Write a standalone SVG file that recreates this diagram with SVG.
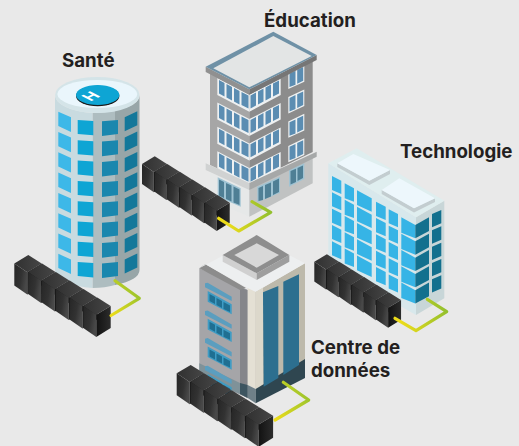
<svg xmlns="http://www.w3.org/2000/svg" xmlns:xlink="http://www.w3.org/1999/xlink" width="519" height="446" viewBox="0 0 519 446">
<style>
.lbl{font-family:Inter,"Liberation Sans",sans-serif;font-weight:700;font-size:18.7px;fill:#231f20}
.wire{fill:none;stroke-width:3.2;stroke-linecap:round;stroke-linejoin:round}
.s1{fill:#3db8e8}.s2{fill:#0ea5d4}.s3{fill:#1a87ae}.s4{fill:#14789a}
.ew{fill:#5b8db2}.ef{fill:#eef1f2}
.tw{fill:#36b4e6}.td{fill:#13708e}
</style>
<defs>
<linearGradient id="face" x1="0" x2="1" y1="0" y2=".4"><stop offset="0" stop-color="#262626"/><stop offset=".6" stop-color="#323232"/><stop offset="1" stop-color="#484848"/></linearGradient>
<linearGradient id="topf" x1="0" x2="1" y1="0" y2="0"><stop offset="0" stop-color="#303030"/><stop offset="1" stop-color="#464646"/></linearGradient>
<linearGradient id="rf" x1="0" x2="1" y1="0" y2="0"><stop offset="0" stop-color="#121212"/><stop offset="1" stop-color="#2c2c2c"/></linearGradient>
<linearGradient id="wg1" gradientUnits="userSpaceOnUse" x1="112" y1="316" x2="139" y2="298"><stop offset="0" stop-color="#ecdc1a"/><stop offset="1" stop-color="#9fc52c"/></linearGradient>
<linearGradient id="wg2" gradientUnits="userSpaceOnUse" x1="226" y1="222" x2="268" y2="208"><stop offset="0" stop-color="#ecdc1a"/><stop offset="1" stop-color="#93c02e"/></linearGradient>
<linearGradient id="wg3" gradientUnits="userSpaceOnUse" x1="400" y1="320" x2="445" y2="306"><stop offset="0" stop-color="#ecdc1a"/><stop offset="1" stop-color="#93c02e"/></linearGradient>
<linearGradient id="wg4" gradientUnits="userSpaceOnUse" x1="275" y1="419" x2="309" y2="400"><stop offset="0" stop-color="#ecdc1a"/><stop offset="1" stop-color="#9fc52c"/></linearGradient>
<g id="unit">
<polygon points="0,0 14,-8.4 27.4,0 13,8.8" fill="url(#topf)"/>
<polygon points="0,0 13,8.8 13,31 0,22" fill="url(#face)"/>
<polygon points="13,8.8 27.4,0 27.4,22 13,31" fill="url(#rf)"/>
</g>
<g id="rack">
<use xlink:href="#unit" href="#unit"/>
<use xlink:href="#unit" href="#unit" x="13.8" y="8.5"/>
<use xlink:href="#unit" href="#unit" x="27.6" y="17"/>
<use xlink:href="#unit" href="#unit" x="41.4" y="25.5"/>
<use xlink:href="#unit" href="#unit" x="55.2" y="34"/>
<use xlink:href="#unit" href="#unit" x="69" y="42.5"/>
</g>
<g id="srow">
<polygon class="s1" points="58.3,111.7 71,117.3 71,132 58.3,126"/>
<polygon class="s2" points="77.7,120 93.3,121 93.3,135.3 77.7,134"/>
<polygon class="s3" points="102,121.3 118,120 118,134 102,136"/>
<polygon class="s4" points="124.7,117.3 137.3,111.3 137.3,125.3 124.7,131.3"/>
</g>
<g id="erow">
<polygon class="ef" points="217.3,78 249.3,94.7 249.3,111.7 217.3,95"/>
<polygon class="ef" points="249.3,94.7 280.7,78.7 280.7,95 249.3,111.7"/>
<polygon class="ew" points="219,80 224.5,83 224.5,96.5 219,93.5"/>
<polygon class="ew" points="226.5,84 232,87 232,100.5 226.5,97.5"/>
<polygon class="ew" points="234,88 239.5,91 239.5,104.5 234,101.5"/>
<polygon class="ew" points="241.5,92 248.5,95.5 248.5,108.5 241.5,105"/>
<polygon class="ew" points="250.5,95.5 256,92.5 256,105.5 250.5,108.5"/>
<polygon class="ew" points="258,91.5 263.5,88.5 263.5,101.5 258,104.5"/>
<polygon class="ew" points="265.5,87.5 271,84.5 271,97.5 265.5,100.5"/>
<polygon class="ew" points="273,83.5 279,80.5 279,93.5 273,96.5"/>
<polygon class="ef" points="288.3,72.7 304.3,65 304.3,81.7 288.3,89"/>
<polygon class="ew" points="289.5,73.5 295.5,70.7 295.5,84.7 289.5,87"/>
<polygon class="ew" points="297.2,69.8 303.2,67 303.2,80.7 297.2,83.7"/>
</g>
<g id="trow">
<polygon class="tw" points="332,176 341.3,180.7 341.3,194 332,190"/>
<polygon class="tw" points="344.7,183.3 354,188.3 354,201.7 344.7,198.3"/>
<polygon class="tw" points="357,190.3 371.7,198.3 371.7,211.7 357,205"/>
<polygon class="tw" points="376,201.7 385.7,206.7 385.7,220 376,216"/>
<polygon class="tw" points="388.7,209.3 398,214 398,227.3 388.7,223.3"/>
<polygon class="tw" points="401.3,217.3 415.3,225 415.3,238.3 401.3,232.7"/>
<polygon class="td" points="415.3,225 429,217.3 429,231 415.3,238.3"/>
<polygon class="td" points="432,214 441.3,210 441.3,223.3 432,227.3"/>
</g>
<g id="drow">
<polygon points="207.7,291 231.7,304.3 231.7,314.3 207.7,301.7" fill="#3f9cc4"/>
<polygon points="209.5,294 215,297 215,304 209.5,301" fill="#1f6f92"/>
<polygon points="216.5,298 222,301 222,308 216.5,305" fill="#1f6f92"/>
<polygon points="223.5,302 230,305.5 230,312 223.5,309" fill="#1f6f92"/>
<polygon points="205,283.3 207.7,282.7 231.7,296.7 231.7,301 205,287.3" fill="#5b9ebf"/>
</g>
</defs>
<rect width="519" height="446" fill="#e9e9e9"/>

<g id="education">
<polygon points="210,171 249.3,188 249.3,216.7 210,200" fill="#e6e8e8"/>
<polygon points="249.3,188 312.7,156 312.7,183.3 249.3,216.7" fill="#c0c2c2"/>
<polygon points="217.7,177.3 240.7,188.3 240.7,206.7 217.7,196.7" fill="#9fc3d3"/>
<polygon points="219,179.5 224,182 224,198 219,195.5" fill="#4f7f95"/>
<polygon points="226,183 231.5,185.5 231.5,201.5 226,199" fill="#4f7f95"/>
<polygon points="233.5,186.5 239.5,189.5 239.5,205 233.5,202.5" fill="#4f7f95"/>
<polygon points="257.3,186.7 280,176.7 280,192.7 257.3,202.3" fill="#9fc3d3"/>
<polygon points="258.5,188 263,186 263,200 258.5,201" fill="#4f7f95"/>
<polygon points="265,185 271,182.5 271,196.5 265,199" fill="#4f7f95"/>
<polygon points="273,181.5 279,178.5 279,192 273,195" fill="#4f7f95"/>
<polygon points="289,170 304.3,163.3 304.3,179 289,186.7" fill="#9fc3d3"/>
<polygon points="290.5,171 296,168.7 296,182 290.5,184.5" fill="#4f7f95"/>
<polygon points="297.5,168 303,165.5 303,178 297.5,181" fill="#4f7f95"/>
<polygon points="210,72 249.3,93 249.3,183 210,165" fill="#a6a6a6"/>
<polygon points="249.3,93 312.7,60 312.7,152 249.3,183" fill="#8c8c8c"/>
<use xlink:href="#erow" href="#erow"/>
<use xlink:href="#erow" href="#erow" y="24.4"/>
<use xlink:href="#erow" href="#erow" y="48.8"/>
<use xlink:href="#erow" href="#erow" y="73.2"/>
<polygon points="205.7,163.3 249.3,183 249.3,190 205.7,170" fill="#d0d2d2"/>
<polygon points="249.3,183 316.7,151.7 316.7,156.7 249.3,190" fill="#a6a8a8"/>
<polygon points="205.7,66.7 249.3,89.3 249.3,94.7 205.7,72" fill="#909090"/>
<polygon points="249.3,89.3 316.7,55 316.7,60 249.3,94.7" fill="#767676"/>
<polygon points="205.7,66.7 273.3,31.7 316.7,55 249.3,89.3" fill="#6f91a6"/>
<polygon points="213.3,68.3 273.3,36 311.7,56 249.3,87.3" fill="#e3e5e5"/>
</g>

<g id="sante">
<path d="M55,95V270A42.2,18 0 0 0 92.7,288V113A42.2,18 0 0 1 55,95Z" fill="#c9dbe0"/>
<path d="M92.7,113V288Q105,288 115,285V110Q105,113 92.7,113Z" fill="#aebdc0"/>
<path d="M115,110V285Q139.5,280 139.5,270V95Q139.5,106 115,110Z" fill="#98a6a8"/>
<use xlink:href="#srow" href="#srow"/>
<use xlink:href="#srow" href="#srow" y="20.3"/>
<use xlink:href="#srow" href="#srow" y="40.6"/>
<use xlink:href="#srow" href="#srow" y="60.9"/>
<use xlink:href="#srow" href="#srow" y="81.2"/>
<use xlink:href="#srow" href="#srow" y="101.5"/>
<use xlink:href="#srow" href="#srow" y="121.8"/>
<use xlink:href="#srow" href="#srow" y="142.1"/>
<ellipse cx="97.3" cy="95" rx="42.2" ry="18" fill="#d4e4e8"/>
<ellipse cx="97.3" cy="94" rx="40" ry="14" fill="#eaf6fc"/>
<ellipse cx="97.7" cy="96" rx="21.7" ry="10.3" fill="#1a1a1a"/>
<ellipse cx="97.7" cy="95" rx="21.7" ry="10" fill="#0ea5d4"/>
<text transform="matrix(1 -.52 1 .52 90.5 101.5)" font-family="Inter,'Liberation Sans',sans-serif" font-weight="700" font-size="14" fill="#fff">H</text>
</g>

<g id="technologie">
<polygon points="328.3,163.3 416,217.3 416,315 328.3,265" fill="#d8e8ec"/>
<polygon points="416,217.3 444.3,200.7 444.3,298.3 416,315" fill="#c8d6d8"/>
<polygon points="328.3,163.3 356.7,148.3 444.3,200.7 416,217.3" fill="#dfeeef"/>
<polygon points="337.3,163.3 369.3,180.7 390,170 390,174 369.3,185 337.3,167" fill="#c3cdd0"/>
<polygon points="337.3,163.3 353.3,154 390,170 369.3,180.7" fill="#edf7fc"/>
<polygon points="381.7,190 414,208.3 435,198.3 435,202 414,212.5 381.7,194" fill="#c3cdd0"/>
<polygon points="381.7,190 399.3,178.3 435,198.3 414,208.3" fill="#edf7fc"/>
<use xlink:href="#trow" href="#trow"/>
<use xlink:href="#trow" href="#trow" y="16.33"/>
<use xlink:href="#trow" href="#trow" y="32.66"/>
<use xlink:href="#trow" href="#trow" y="49"/>
<use xlink:href="#trow" href="#trow" y="65.3"/>
</g>

<g id="centre-de-donnees">
<polygon points="199.3,268.3 247.7,290 247.7,398 199.3,377" fill="#a5a5a8"/>
<polygon points="240,288 247.7,290 247.7,398 240,394" fill="#85868a"/>
<polygon points="199.3,363.3 240,383 240,394 199.3,377" fill="#7f9299"/>
<polygon points="240,383 247.7,385 247.7,398 240,394" fill="#3d5560"/>
<polygon points="199.3,268.3 205,264 246,288 240,290" fill="#8c8c8c"/>
<use xlink:href="#drow" href="#drow"/>
<use xlink:href="#drow" href="#drow" y="27.7"/>
<use xlink:href="#drow" href="#drow" y="55.4"/>
<use xlink:href="#drow" href="#drow" y="83"/>
<polygon points="247.7,288 255.7,291.7 255.7,389 247.7,385" fill="#e4e0d4"/>
<polygon points="247.7,385 255.7,389 255.7,403.3 247.7,398" fill="#6f8088"/>
<polygon points="255.7,291.7 305,263.3 305,360 255.7,389" fill="#bdb9ab"/>
<polygon points="255.7,291.7 263,287.5 263,385 255.7,389" fill="#dcd8cb"/>
<polygon points="255.7,389 305,359 305,378 255.7,403.3" fill="#2f4650"/>
<polygon points="263,292.3 278.3,286 278.3,378 263.7,386.7" fill="#2d6f8f"/>
<polygon points="283.3,281.7 299,274.3 299,365 283.3,375" fill="#2d6f8f"/>
<polygon points="199.3,268.3 256,238 305,263.3 255.7,291.7 247.7,288 205,264" fill="#edeff0"/>
<polygon points="222.7,255 256.7,273.3 256.7,280 222.7,261.7" fill="#d0d0d0"/>
<polygon points="256.7,273.3 289.3,255 289.3,261.7 256.7,280" fill="#9e9e9e"/>
<polygon points="222.7,255 256.7,235 289.3,255 256.7,273.3" fill="#8e8e8e"/>
<polygon points="234.3,255 256.7,243.3 279,255 256.7,267.7" fill="#d8d8d8"/>
</g>

<g id="serveurs-sante"><use xlink:href="#rack" href="#rack" transform="translate(14.3 263.5)"/></g>
<g id="serveurs-education"><use xlink:href="#rack" href="#rack" transform="translate(142 164) scale(.91)"/></g>
<g id="serveurs-technologie"><use xlink:href="#rack" href="#rack" transform="translate(314.3 261.7) scale(.9)"/></g>
<g id="serveurs-donnees"><use xlink:href="#rack" href="#rack" transform="translate(176.7 373.3)"/></g>

<g id="connectors">
<polyline class="wire" stroke="url(#wg1)" points="115,280.7 139.3,298.3 111,315.5"/>
<polyline class="wire" stroke="url(#wg2)" points="252,201.7 270.7,212.3 238.7,231 218.7,218.3"/>
<polyline class="wire" stroke="url(#wg3)" points="427.3,299.3 446.7,311.7 416,330.7 395,318.3"/>
<polyline class="wire" stroke="url(#wg4)" points="283.3,382.3 308.7,400 275,420"/>
</g>

<text class="lbl" x="62" y="66.7">Santé</text>
<text class="lbl" x="264" y="26.7">Éducation</text>
<text class="lbl" x="400" y="158">Technologie</text>
<text class="lbl" x="311" y="353.7">Centre de</text>
<text class="lbl" x="311" y="376.7">données</text>
</svg>
